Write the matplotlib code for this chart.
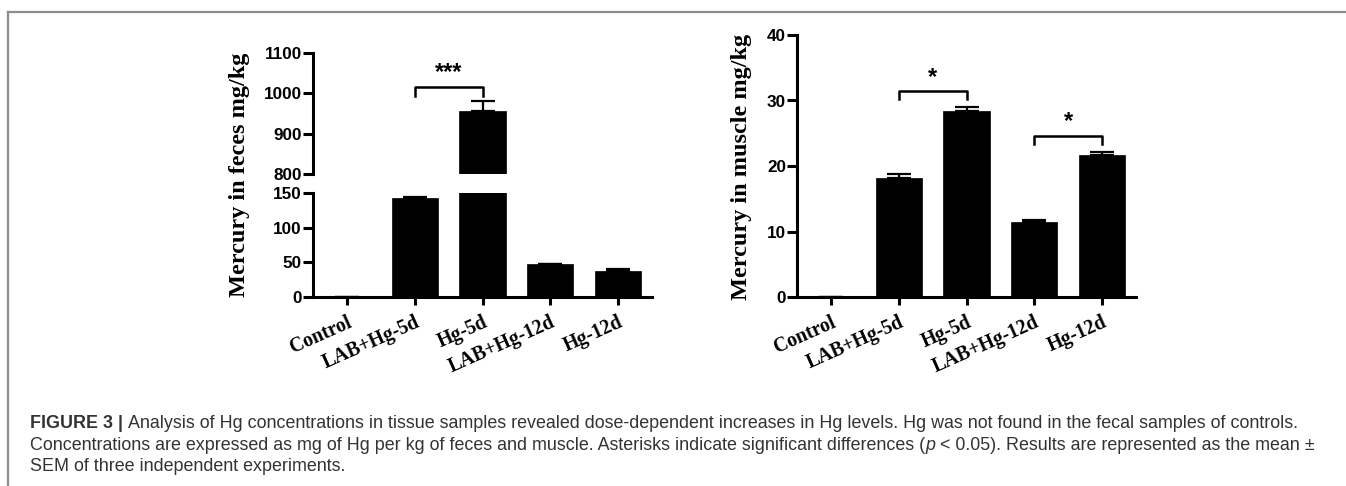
import matplotlib
matplotlib.use('Agg')
import matplotlib.pyplot as plt
from matplotlib.lines import Line2D
import numpy as np

# data
groups = ['Control', 'LAB+Hg-5d', 'Hg-5d', 'LAB+Hg-12d', 'Hg-12d']
feces_mean = [0, 143, 957, 47, 37]
feces_sem = [0, 1.5, 24, 1.0, 3.0]
muscle_mean = [0, 18.2, 28.4, 11.4, 21.7]
muscle_sem = [0, 0.6, 0.6, 0.3, 0.45]

# significance brackets: (x1, x2, bar height, label)
feces_sig = [(1, 2, 1016, '***')]
muscle_sig = [(1, 2, 31.4, '*'), (3, 4, 24.6, '*')]

W, H = 1346, 486
fig = plt.figure(figsize=(W / 100, H / 100), dpi=100)

def px_axes(x0, y0, x1, y1):
    # axes from pixel box (top-left origin)
    return fig.add_axes([x0 / W, 1 - y1 / H, (x1 - x0) / W, (y1 - y0) / H])

SANS = 'Liberation Sans'
SERIF = 'Liberation Serif'
AXLW = 2.2

def style(ax, xaxis=True):
    for s in ['top', 'right']:
        ax.spines[s].set_visible(False)
    ax.spines['left'].set_linewidth(AXLW)
    if xaxis:
        ax.spines['bottom'].set_linewidth(AXLW)
        ax.tick_params(axis='x', length=6, width=AXLW, direction='out')
    else:
        ax.spines['bottom'].set_visible(False)
        ax.tick_params(axis='x', bottom=False, labelbottom=False)
    ax.tick_params(axis='y', length=7, width=AXLW, direction='out', pad=1)
    for lab in ax.get_yticklabels():
        lab.set_fontfamily(SANS)
        lab.set_fontweight('bold')
        lab.set_fontsize(12.3)

def draw_bars(ax, means, sems):
    x = np.arange(len(groups))
    ax.bar(x, means, width=0.68, color='black', edgecolor='black', linewidth=0.5)
    ax.errorbar(x, means, yerr=[np.zeros(len(sems)), sems], fmt='none',
                ecolor='black', elinewidth=1.6, capsize=8.5, capthick=1.6)
    ax.set_xlim(-0.5, len(groups) - 0.5)

def xlabels(ax):
    ax.set_xticks(np.arange(len(groups)))
    ax.set_xticklabels(groups, rotation=24, ha='right', va='top',
                       rotation_mode='anchor', fontfamily=SERIF,
                       fontweight='bold', fontsize=14.2)
    ax.tick_params(axis='x', pad=5)

def brackets(ax, sig, leg):
    for x1, x2, y, lab in sig:
        ax.plot([x1, x1, x2, x2], [y - leg, y, y, y - leg], color='black',
                lw=1.8, clip_on=False)
        ax.text((x1 + x2) / 2, y + leg * 0.3, lab, ha='center', va='bottom',
                fontfamily=SANS, fontweight='bold', fontsize=17)

# left panel: broken axis
ax_lo = px_axes(313, 193, 652, 297)
ax_hi = px_axes(313, 53, 652, 174)
for ax in (ax_lo, ax_hi):
    draw_bars(ax, feces_mean, feces_sem)
ax_lo.set_ylim(0, 150)
ax_lo.set_yticks([0, 50, 100, 150])
ax_hi.set_ylim(800, 1100)
ax_hi.set_yticks([800, 900, 1000, 1100])
style(ax_lo)
style(ax_hi, xaxis=False)
xlabels(ax_lo)
brackets(ax_hi, feces_sig, 22)

# right panel
ax_r = px_axes(797, 35, 1136, 297)
draw_bars(ax_r, muscle_mean, muscle_sem)
ax_r.set_ylim(0, 40)
ax_r.set_yticks([0, 10, 20, 30, 40])
style(ax_r)
xlabels(ax_r)
brackets(ax_r, muscle_sig, 1.2)

# y labels
fig.text(240 / W, 1 - 175 / H, 'Mercury in feces mg/kg', rotation=90,
         ha='center', va='center', fontfamily=SERIF, fontweight='bold', fontsize=17.5)
fig.text(742 / W, 1 - 167 / H, 'Mercury in muscle mg/kg', rotation=90,
         ha='center', va='center', fontfamily=SERIF, fontweight='bold', fontsize=17.5)

# frame lines
gray = '#8c8c8c'
fig.add_artist(Line2D([7.5 / W, 1], [1 - 12 / H, 1 - 12 / H], color=gray, lw=1.6,
                      transform=fig.transFigure))
fig.add_artist(Line2D([7.5 / W, 7.5 / W], [0, 1 - 12 / H], color=gray, lw=1.6,
                      transform=fig.transFigure))

# caption
cap_color = '#333333'
cap_size = 12.9
lines = [
    [('FIGURE 3 | ', 'bold', 'normal'),
     ('Analysis of Hg concentrations in tissue samples revealed dose-dependent '
      'increases in Hg levels. Hg was not found in the fecal samples of controls.',
      'normal', 'normal')],
    [('Concentrations are expressed as mg of Hg per kg of feces and muscle. '
      'Asterisks indicate significant differences (', 'normal', 'normal'),
     ('p', 'normal', 'italic'),
     (' < 0.05). Results are represented as the mean \u00b1', 'normal', 'normal')],
    [('SEM of three independent experiments.', 'normal', 'normal')],
]
baselines = [428, 449.5, 471]
fig.canvas.draw()
renderer = fig.canvas.get_renderer()
for segs, yb in zip(lines, baselines):
    x = 30
    for txt, wt, st in segs:
        t = fig.text(x / W, 1 - yb / H, txt, ha='left', va='baseline',
                     fontfamily=SANS, fontweight=wt, fontstyle=st,
                     fontsize=cap_size, color=cap_color)
        bb = t.get_window_extent(renderer)
        x += bb.width

fig.savefig('out.png', dpi=100)
